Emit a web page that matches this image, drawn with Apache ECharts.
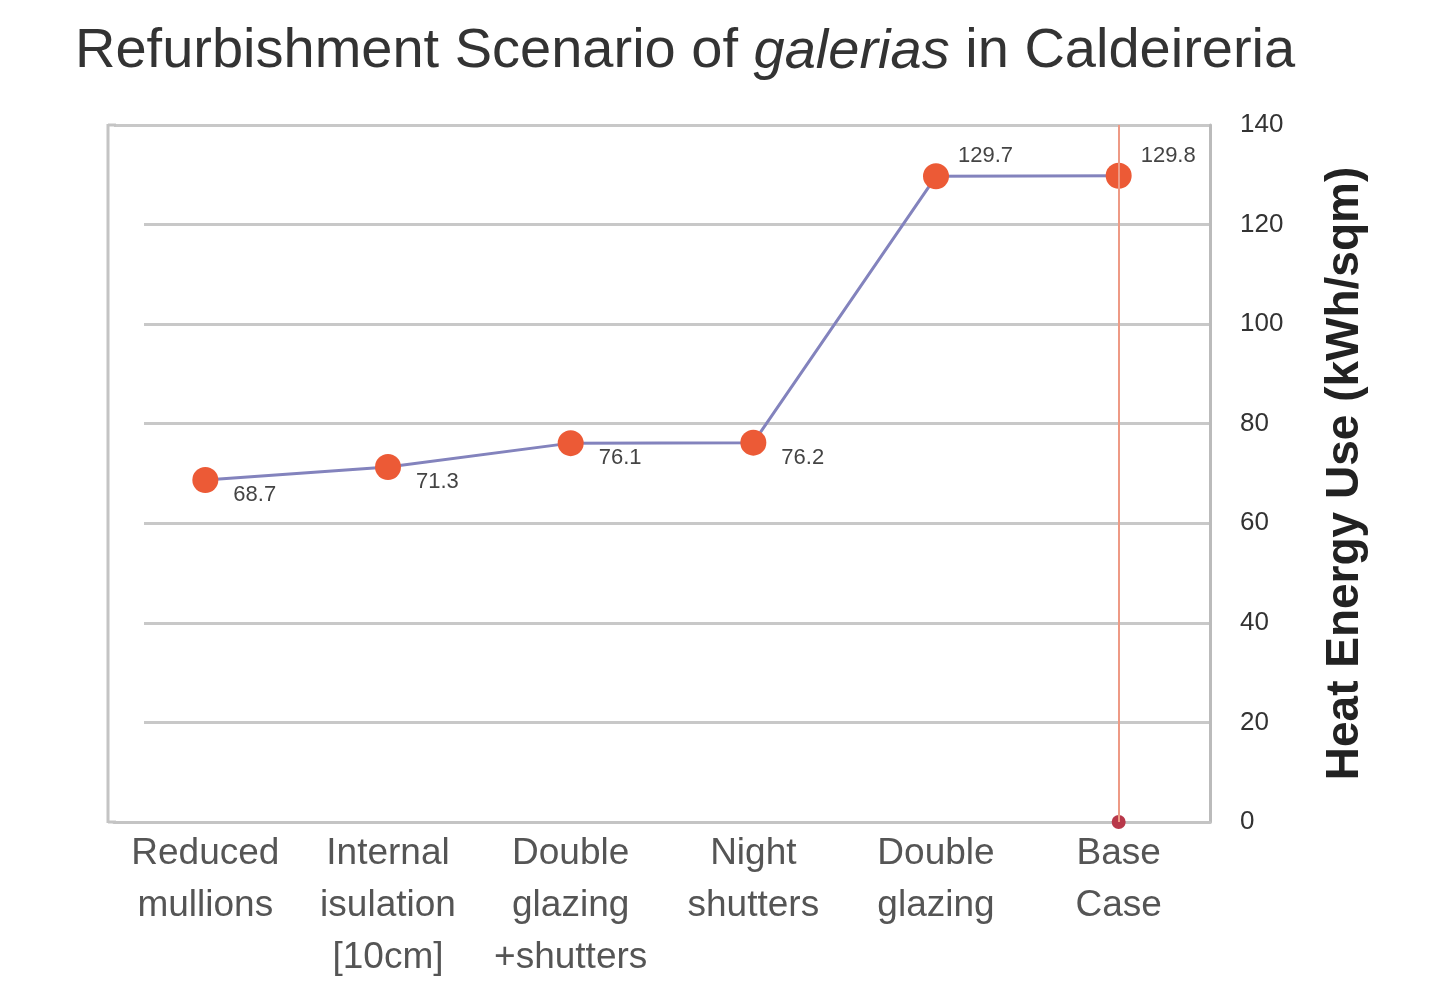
<!DOCTYPE html>
<html><head><meta charset="utf-8">
<script src="https://cdn.jsdelivr.net/npm/echarts@6/dist/echarts.min.js"></script>
<style>html,body{margin:0;padding:0;background:#fff}#c{width:1438px;height:993px}</style>
</head><body><div id="c"></div>
<script>
const categories = ['Reduced\nmullions', 'Internal\nisulation\n[10cm]', 'Double\nglazing\n+shutters', 'Night\nshutters', 'Double\nglazing', 'Base\nCase'];
const heatValues = [68.7, 71.3, 76.1, 76.2, 129.7, 129.8];
const baseCaseDrop = [null, null, null, null, null, 0];
const yTicks = [0, 20, 40, 60, 80, 100, 120, 140];

const chart = echarts.init(document.getElementById('c'));
const dataItems = heatValues.map((v, i) => i >= 4
  ? { value: v, label: { offset: [4, -20] } }
  : v);
chart.setOption({
  backgroundColor: '#fff',
  animation: false,
  title: {
    text: '{n|Refurbishment Scenario of }{i|galerias}{n| in Caldeireria}',
    left: 70, top: 19,
    textStyle: {
      rich: {
        n: { fontSize: 56, color: '#333', fontWeight: 'normal', fontFamily: 'Liberation Sans' },
        i: { fontSize: 56, color: '#333', fontWeight: 'normal', fontStyle: 'italic', fontFamily: 'Liberation Sans' }
      }
    }
  },
  grid: { left: 114, right: 228, top: 125, bottom: 171 },
  graphic: [
    { type: 'rect', z: 1, shape: { x: 110, y: 132, width: 34, height: 684 }, style: { fill: '#fff' } },
    { type: 'line', z: 1, shape: { x1: 108, y1: 124, x2: 108, y2: 823 }, style: { stroke: '#c4c4c4', lineWidth: 3 } },
    { type: 'line', z: 1, shape: { x1: 108, y1: 822, x2: 116, y2: 822 }, style: { stroke: '#c4c4c4', lineWidth: 3 } },
    { type: 'line', z: 1, shape: { x1: 108, y1: 125, x2: 116, y2: 125 }, style: { stroke: '#c4c4c4', lineWidth: 3 } }
  ],
  xAxis: {
    type: 'category',
    data: categories,
    boundaryGap: true,
    axisLine: { show: true, lineStyle: { color: '#c4c4c4', width: 3 } },
    axisTick: { show: false },
    axisLabel: { fontSize: 37, color: '#555', lineHeight: 52, margin: 6, fontFamily: 'Liberation Sans', interval: 0 },
    splitLine: { show: false }
  },
  yAxis: {
    type: 'value',
    position: 'right',
    min: 0, max: 140, interval: 20,
    name: 'Heat Energy Use (kWh/sqm)',
    nameLocation: 'middle',
    nameRotate: 90,
    nameGap: 112,
    nameTextStyle: { fontSize: 46, fontWeight: 'bold', color: '#222', fontFamily: 'Liberation Sans' },
    axisLine: { show: true, lineStyle: { color: '#bbb', width: 3 } },
    axisTick: { show: false },
    axisLabel: {
      fontSize: 26, color: '#333', margin: 30, fontFamily: 'Liberation Sans',
      formatter: v => yTicks.includes(v) ? String(v) : ''
    },
    splitLine: { show: true, lineStyle: { color: '#c8c8c8', width: 3 } }
  },
  series: [
    {
      type: 'line',
      data: dataItems,
      symbol: 'circle',
      symbolSize: 26,
      itemStyle: { color: '#ec5a36' },
      lineStyle: { color: '#8383bd', width: 3 },
      label: {
        show: true, fontSize: 22, color: '#444', fontFamily: 'Liberation Sans',
        position: 'right', offset: [10, 15],
        formatter: p => Number(p.value).toFixed(1)
      },
      markLine: {
        silent: true, symbol: 'none',
        lineStyle: { color: '#ee9a85', width: 2, type: 'solid' },
        label: { show: false },
        data: [{ xAxis: 'Base\nCase' }]
      },
      z: 3
    },
    {
      type: 'line',
      data: baseCaseDrop,
      symbol: 'circle',
      symbolSize: 14,
      itemStyle: { color: '#b8384a' },
      lineStyle: { width: 0 },
      z: 4
    }
  ]
});
</script>
</body></html>
